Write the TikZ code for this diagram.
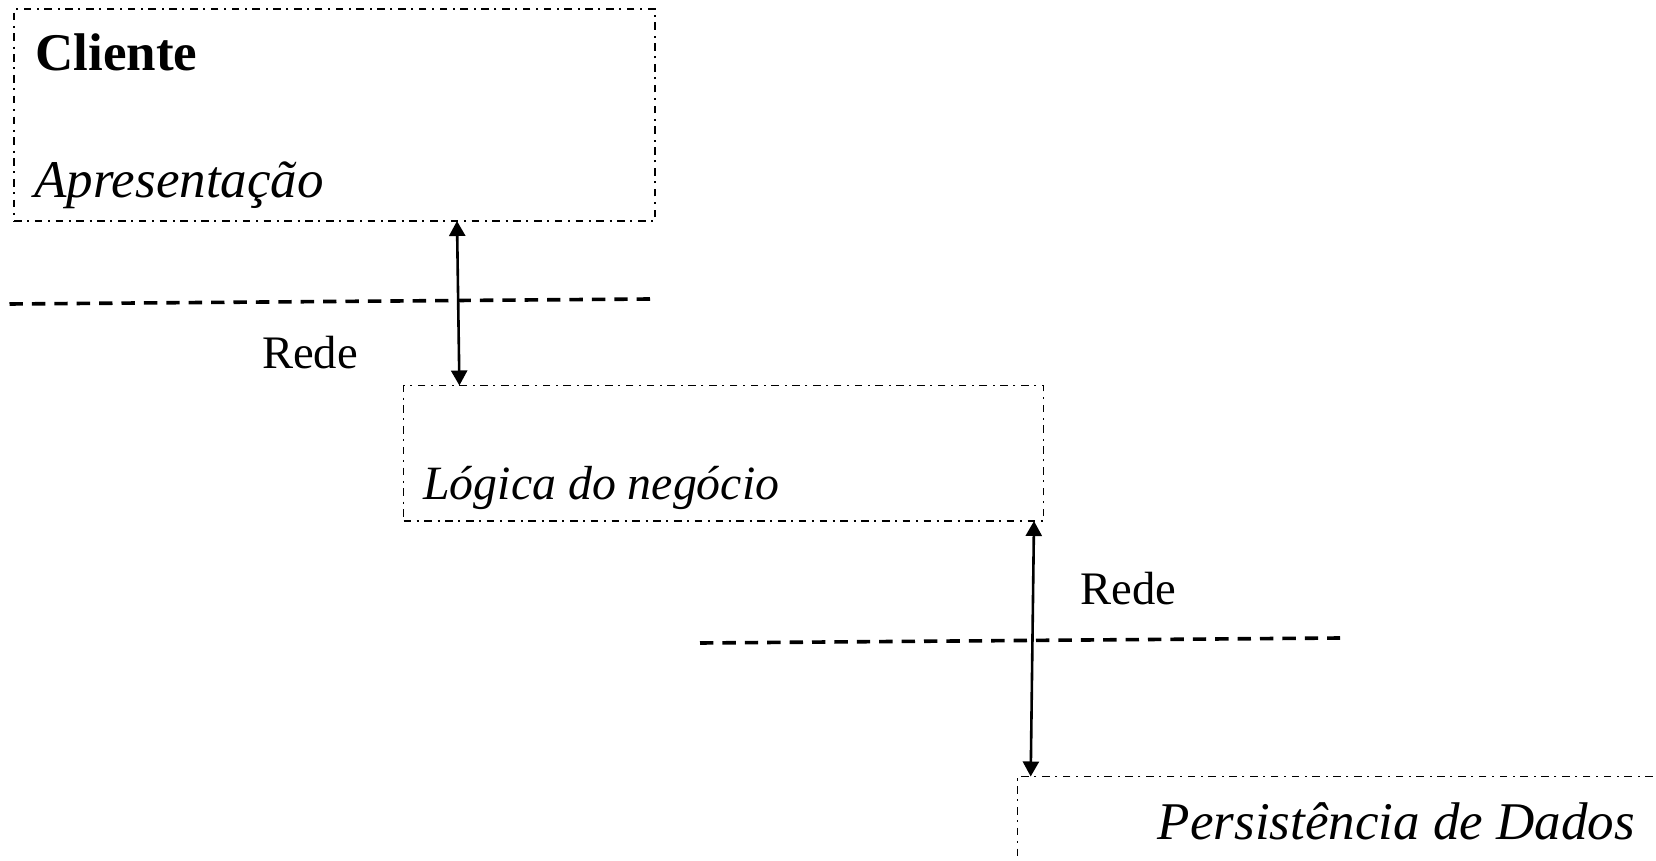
\documentclass[tikz,border=0pt]{standalone}
\usepackage{fontspec}
\setmainfont{Liberation Serif}
\usetikzlibrary{arrows.meta}
\tikzset{
  tierbox/.style={draw=black, line width=0.9pt, dash pattern=on 3.8pt off 2.8pt on 1pt off 2.8pt,
    inner sep=0pt, outer sep=0pt, anchor=north west},
  netline/.style={draw=black, line width=1.8pt, dash pattern=on 6.7pt off 4.5pt},
  link/.style={line width=1.3pt, {Triangle[width=8pt,length=7.5pt]}-{Triangle[width=8pt,length=7.5pt]}},
  bigital/.style={inner sep=0pt, anchor=base west, font=\fontsize{26.5}{30}\selectfont\itshape},
  netlabel/.style={inner sep=0pt, anchor=base west, font=\fontsize{23.3}{28}\selectfont},
}
\begin{document}
\begin{tikzpicture}[x=0.5pt,y=-0.5pt]
\useasboundingbox (0,0) rectangle (1656,861);
\clip (0,0) rectangle (1656,861);
% boxes
\node[tierbox, minimum width=320.5pt, minimum height=106pt] (box1) at (14,9) {};
\node[tierbox, minimum width=320pt, minimum height=67.75pt] (box2) at (403.5,385.5) {};
\node[tierbox, minimum width=341pt, minimum height=62pt] (box3) at (1017.5,776.5) {};
% texts
\node[inner sep=0pt, anchor=base west, font=\fontsize{26.5}{30}\selectfont\bfseries] (cli) at (35,71) {Cliente};
\node[bigital] (apr) at (34,198) {Apresentação};
\node[bigital, font=\fontsize{23.9}{28}\selectfont\itshape] (log) at (423,499.3) {Lógica do negócio};
\node[bigital] (per) at (1157.5,839) {Persistência de Dados};
\node[netlabel] (rede1) at (261.7,368.3) {Rede};
\node[netlabel] (rede2) at (1080,604) {Rede};
% network lines
\coordinate (d1a) at (9.5,304);
\coordinate (d1b) at (650,299);
\coordinate (d2a) at (700,643);
\coordinate (d2b) at (1340,638);
\draw[netline] (d1a) -- (d1b);
\draw[netline] (d2a) -- (d2b);
% connectors
\coordinate (a1t) at (box1.south -| 457,0);
\coordinate (a1b) at (box2.north -| 459.4,0);
\coordinate (a2t) at (box2.south -| 1034,0);
\coordinate (a2b) at (box3.north -| 1030.7,0);
\draw[link] (a1t) -- (a1b);
\draw[link] (a2t) -- (a2b);
\end{tikzpicture}
\end{document}
